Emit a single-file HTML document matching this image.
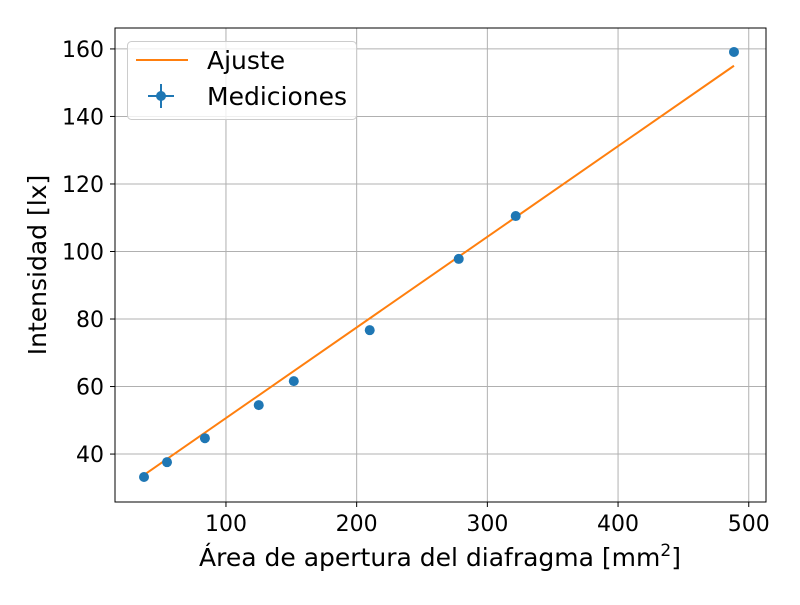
<!DOCTYPE html>
<html><head><meta charset="utf-8"><style>
body{margin:0;background:#fff;}
svg text{font-family:"DejaVu Sans","Liberation Sans",sans-serif;fill:#000;}
</style></head><body>
<svg id="chart" width="800" height="600" viewBox="0 0 800 600" xmlns="http://www.w3.org/2000/svg">
<rect x="0" y="0" width="800" height="600" fill="#fff"/>
<g id="grid"></g>
<g id="fit"></g>
<g id="points"></g>
<rect x="115" y="28" width="651" height="474" fill="none" stroke="#000" stroke-width="1"/>
<g id="ticks"></g>
<text x="440" y="566" font-size="25" text-anchor="middle">Área de apertura del diafragma [mm<tspan dy="-10" font-size="17">2</tspan><tspan dy="10">]</tspan></text>
<text transform="translate(46,265) rotate(-90)" font-size="25" text-anchor="middle">Intensidad [lx]</text>
<g>
<rect x="127.5" y="41.5" width="229" height="78" rx="4" fill="#fff" fill-opacity="0.8" stroke="#ccc"/>
<line x1="136" y1="60" x2="188" y2="60" stroke="#ff7f0e" stroke-width="2"/>
<text x="207" y="69" font-size="25">Ajuste</text>
<line x1="148" y1="96" x2="174" y2="96" stroke="#1f77b4" stroke-width="2"/>
<line x1="161" y1="84" x2="161" y2="108" stroke="#1f77b4" stroke-width="2"/>
<circle cx="161" cy="96" r="5" fill="#1f77b4"/>
<text x="207" y="105" font-size="25">Mediciones</text>
</g>
</svg>
<script>
const xVals=[37.3,54.9,83.9,125.1,151.9,210,278.1,321.7,488.7];
const yVals=[33.2,37.6,44.7,54.5,61.6,76.7,97.8,110.5,159.1];
const xTicks=[100,200,300,400,500];
const yTicks=[40,60,80,100,120,140,160];
const fitSlope=0.2685, fitIntercept=23.8;
const NS="http://www.w3.org/2000/svg";
const L=115,R=766,T=28,B=502,xmin=15.1,xmax=513.2,ymin=25.8,ymax=166.2;
const sx=v=>L+(v-xmin)/(xmax-xmin)*(R-L);
const sy=v=>B-(v-ymin)/(ymax-ymin)*(B-T);
function mk(tag,attrs,parent){const e=document.createElementNS(NS,tag);for(const k in attrs)e.setAttribute(k,attrs[k]);document.getElementById(parent).appendChild(e);return e;}
xTicks.forEach(t=>{
 const g=mk('line',{x1:sx(t),x2:sx(t),y1:T,y2:B,stroke:'#b0b0b0','stroke-width':1},'grid');
 
 
 const k=mk('line',{x1:sx(t),x2:sx(t),y1:B,y2:B+5,stroke:'#000'},'ticks');
 
 
 const tx=mk('text',{x:sx(t),y:B+29,'font-size':22,'text-anchor':'middle'},'ticks');tx.textContent=t;
 
 
});
yTicks.forEach(t=>{
 const g=mk('line',{x1:L,x2:R,y1:sy(t),y2:sy(t),stroke:'#b0b0b0','stroke-width':1},'grid');
 
 
 const k=mk('line',{x1:L-5,x2:L,y1:sy(t),y2:sy(t),stroke:'#000'},'ticks');
 
 
 const tx=mk('text',{x:L-11,y:sy(t)+8,'font-size':22,'text-anchor':'end'},'ticks');tx.textContent=t;
 
 
});
const x0=xVals[0],x1=xVals[xVals.length-1];
const fl=mk('line',{x1:sx(x0),y1:sy(fitSlope*x0+fitIntercept),x2:sx(x1),y2:sy(fitSlope*x1+fitIntercept),stroke:'#ff7f0e','stroke-width':2},'fit');


xVals.forEach((x,i)=>{
 const c=mk('circle',{cx:sx(x),cy:sy(yVals[i]),r:5,fill:'#1f77b4'},'points');
 
 
});
</script>
</body></html>
